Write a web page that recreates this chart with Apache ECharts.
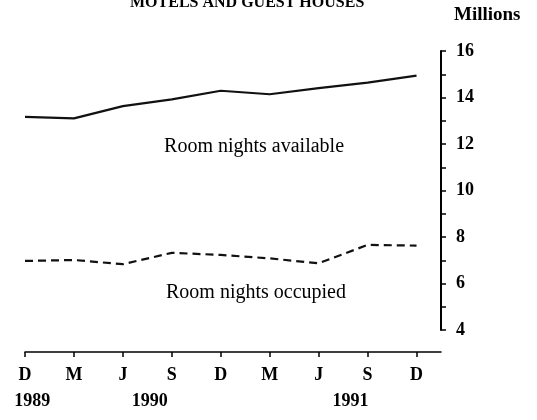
<!DOCTYPE html>
<html>
<head>
<meta charset="utf-8">
<script src="https://cdn.jsdelivr.net/npm/echarts@6/dist/echarts.min.js"></script>
<style>
  html, body { margin: 0; padding: 0; background: #fff; }
  #main { width: 537px; height: 420px; }
</style>
</head>
<body>
<div id="main"></div>
<script>
// quarters, Dec 1989 - Dec 1991
var months = ['D', 'M', 'J', 'S', 'D', 'M', 'J', 'S', 'D'];
var years = ['1989', '1990', '1991'];
var yearAt = [0.15, 2.55, 6.65];           // where the year label sits, in quarter units
var available = [13.17, 13.10, 13.63, 13.92, 14.29, 14.14, 14.40, 14.64, 14.94];
var occupied = [6.97, 7.01, 6.83, 7.32, 7.23, 7.08, 6.87, 7.66, 7.63];
var yTicks = [4, 6, 8, 10, 12, 14, 16];

var FONT = 'Liberation Serif';

function pairs(arr) {
    var out = [];
    for (var i = 0; i < arr.length; i++) {
        out.push([i, arr[i]]);
    }
    return out;
}

var idx = [];
for (var i = 0; i < months.length; i++) idx.push(i);

var myChart = echarts.init(document.getElementById('main'));

var option = {
    animation: false,
    backgroundColor: '#fff',
    title: {
        text: 'MOTELS AND GUEST HOUSES',
        left: 125,
        top: -10,
        textStyle: {fontFamily: FONT, fontWeight: 'bold', fontSize: 16, color: '#000'}
    },
    grid: {left: 25, right: 96, top: 51, bottom: 90},
    xAxis: [
        {
            type: 'value',
            min: 0,
            max: 8.5,
            position: 'bottom',
            offset: 22,
            splitLine: {show: false},
            axisLine: {show: true, onZero: false, lineStyle: {color: '#000', width: 1.5}},
            axisTick: {show: true, customValues: idx, length: 5, lineStyle: {color: '#000', width: 1.5}},
            axisLabel: {
                customValues: idx,
                margin: 14,
                formatter: function (v) { return months[Math.round(v)]; },
                fontFamily: FONT, fontWeight: 'bold', fontSize: 18, color: '#000'
            }
        },
        {
            type: 'value',
            min: 0,
            max: 8.5,
            position: 'bottom',
            offset: 48,
            splitLine: {show: false},
            axisLine: {show: false, onZero: false},
            axisTick: {show: false},
            axisLabel: {
                customValues: yearAt,
                margin: 14,
                formatter: function (v) { return years[yearAt.indexOf(v)]; },
                fontFamily: FONT, fontWeight: 'bold', fontSize: 18, color: '#000'
            }
        }
    ],
    yAxis: {
        type: 'value',
        position: 'right',
        min: 4,
        max: 16,
        interval: 2,
        name: 'Millions',
        nameLocation: 'end',
        nameGap: 26,
        nameTextStyle: {fontFamily: FONT, fontWeight: 'bold', fontSize: 19, color: '#000', align: 'left', padding: [0, 0, 0, 13]},
        splitLine: {show: false},
        axisLine: {show: true, onZero: false, lineStyle: {color: '#000', width: 2}},
        axisTick: {show: true, inside: false, length: 5, lineStyle: {color: '#000', width: 1.5}},
        minorTick: {show: true, splitNumber: 2, length: 5, lineStyle: {color: '#000', width: 1.5}},
        minorSplitLine: {show: false},
        axisLabel: {
            margin: 15,
            customValues: yTicks,
            fontFamily: FONT, fontWeight: 'bold', fontSize: 18, color: '#000'
        }
    },
    series: [
        {
            name: 'Room nights available',
            type: 'line',
            data: pairs(available),
            symbol: 'none',
            lineStyle: {color: '#111', width: 2.2},
            markPoint: {
                symbol: 'circle',
                symbolSize: 0,
                data: [{coord: [4.68, 11.87]}],
                label: {show: true, position: 'inside', formatter: 'Room nights available',
                    fontFamily: FONT, fontSize: 20, color: '#000'}
            }
        },
        {
            name: 'Room nights occupied',
            type: 'line',
            data: pairs(occupied),
            symbol: 'none',
            lineStyle: {color: '#111', width: 2.2, type: [8, 5]},
            markPoint: {
                symbol: 'circle',
                symbolSize: 0,
                data: [{coord: [4.72, 5.59]}],
                label: {show: true, position: 'inside', formatter: 'Room nights occupied',
                    fontFamily: FONT, fontSize: 20, color: '#000'}
            }
        }
    ]
};

myChart.setOption(option);
</script>
</body>
</html>
